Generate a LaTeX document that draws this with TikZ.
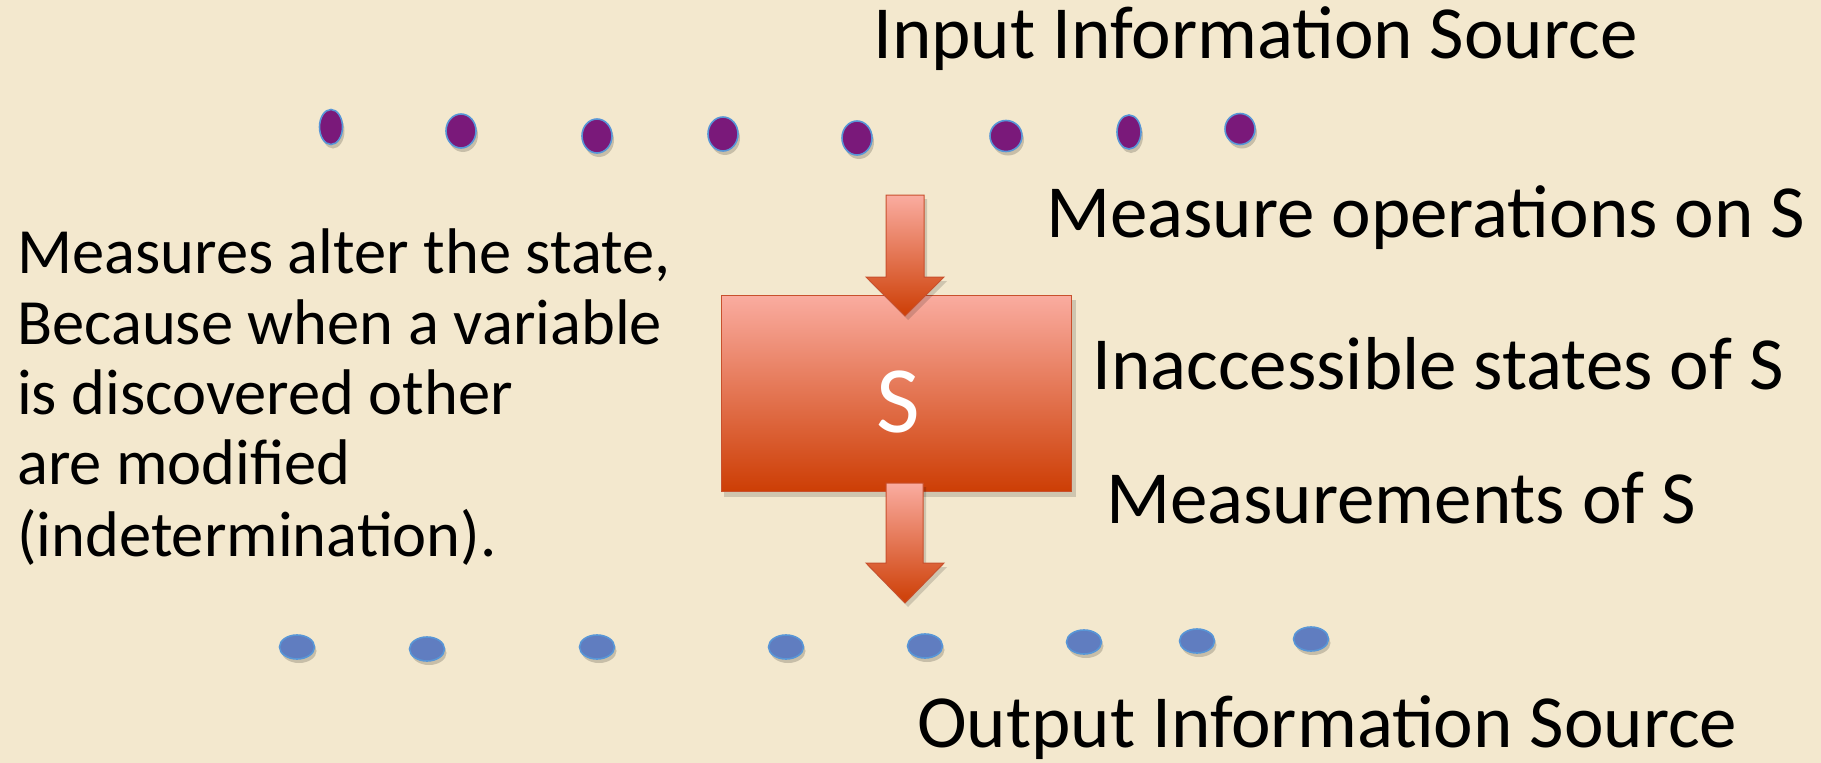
\documentclass[tikz,border=0pt]{standalone}
\usepackage{fontspec}
\setmainfont{Carlito}
\usetikzlibrary{shapes.geometric}
\definecolor{bg}{RGB}{243,232,206}
\definecolor{dotpurple}{RGB}{122,25,122}
\definecolor{dotblue}{RGB}{96,125,192}
\definecolor{dotrim}{RGB}{88,150,215}
\definecolor{boxtop}{RGB}{250,172,160}
\definecolor{boxbot}{RGB}{205,62,5}
\definecolor{boxedge}{RGB}{200,80,45}
\newcommand\txtfont{\fontsize{75}{75}\selectfont}
\newcommand\leftfont{\fontsize{64.5}{64.5}\selectfont}
\newcommand\sfont{\fontsize{95}{95}\selectfont}
\tikzset{
  label text/.style={anchor=base west, inner sep=0pt, font=\txtfont, text=black},
  side text/.style={anchor=base west, inner sep=0pt, font=\leftfont, text=black},
  tdot/.style={ellipse, inner sep=0pt, fill=dotpurple, draw=dotrim, line width=1.6pt},
  bdot/.style={ellipse, inner sep=0pt, fill=dotblue, draw=dotrim, line width=1.6pt},
  dotshadow/.style={ellipse, inner sep=0pt, fill=black, opacity=0.18},
  sbox/.style={rectangle, inner sep=0pt, minimum width=350pt, minimum height=196pt,
    top color=boxtop, bottom color=boxbot, draw=boxedge, line width=1pt},
  blockarrow/.style={top color=boxtop, bottom color=boxbot, draw=boxedge, line width=1pt, line join=miter},
  shadowshape/.style={fill=black, opacity=0.15}
}
\begin{document}
\begin{tikzpicture}[x=1pt,y=-1pt]
\fill[bg] (0,0) rectangle (1821,763);
\useasboundingbox (0,0) rectangle (1821,763);

% texts
\node[label text] (input) at (873,58) {Input Information Source};
\node[label text] (measop) at (1046,237) {Measure operations on S};
\node[label text] (inacc) at (1092,389) {Inaccessible states of S};
\node[label text] (meas) at (1106,523) {Measurements of S};
\node[label text] (output) at (917,747) {Output Information Source};

\node[side text] (l1) at (17,273) {Measures alter the state,};
\node[side text] (l2) at (17,344) {Because when a variable};
\node[side text] (l3) at (17,414) {is discovered other};
\node[side text] (l4) at (17,484) {are modified};
\node[side text] (l5) at (17,556) {(indetermination).};

% top dots
\foreach \x/\y/\w/\h [count=\i] in {331/127/23/35, 461/131/30/34, 597/136/30/34, 723/134/30/34, 857/138/30/34, 1006/136/32/31, 1129/132/24/34, 1240/129/30/31}{
  \node[dotshadow, minimum width=\w pt, minimum height=\h pt] at (\x+2,\y+4) {};
  \node[tdot, minimum width=\w pt, minimum height=\h pt] (t\i) at (\x,\y) {};
}
% bottom dots
\foreach \x/\y [count=\i] in {297/647, 427/649, 597/647, 786/647, 925/646, 1084/642, 1197/641, 1311/639}{
  \node[dotshadow, minimum width=35pt, minimum height=24pt] at (\x+2,\y+4) {};
  \node[bdot, minimum width=35pt, minimum height=24pt] (b\i) at (\x,\y) {};
}

% box
\fill[shadowshape] (724,300) rectangle (1076,497);
\node[sbox] (S) at (896,393) {};
\node[inner sep=0pt, font=\sfont, text=white] (Slabel) at (898,402) {S};

% arrows
\coordinate (intip) at (905,316);
\coordinate (outtip) at (905,603);
\fill[shadowshape] ([shift={(3,4)}]intip) -- ++(-39,-39) -- ++(20,0) -- ++(0,-82) -- ++(38,0) -- ++(0,82) -- ++(20,0) -- cycle;
\path[blockarrow] (intip) -- ++(-39,-39) -- ++(20,0) -- ++(0,-82) -- ++(38,0) -- ++(0,82) -- ++(20,0) -- cycle;
\fill[shadowshape] ([shift={(3,4)}]outtip) -- ++(-39,-40) -- ++(20,0) -- ++(0,-80) -- ++(37,0) -- ++(0,80) -- ++(21,0) -- cycle;
\path[blockarrow] (outtip) -- ++(-39,-40) -- ++(20,0) -- ++(0,-80) -- ++(37,0) -- ++(0,80) -- ++(21,0) -- cycle;
\end{tikzpicture}
\end{document}
